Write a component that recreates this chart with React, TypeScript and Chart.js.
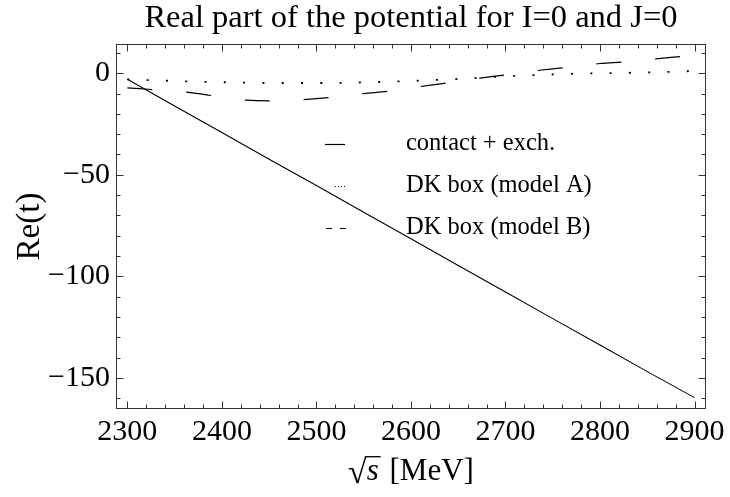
import React, { useEffect, useRef } from "react";
import { Chart, registerables } from "chart.js";

Chart.register(...registerables);

// ---- data ----
const xSolid = [2300, 2350, 2400, 2450, 2500, 2550, 2600, 2650, 2700, 2750, 2800, 2850, 2900];
const contactExch = [-3.0, -16.1, -29.2, -42.3, -55.3, -68.4, -81.5, -94.6, -107.7, -120.8, -133.8, -146.9, -159.7];

const xDotted = [2300, 2350, 2400, 2450, 2500, 2550, 2600, 2650, 2700, 2750, 2800, 2850, 2900];
const modelA = [-3.0, -3.8, -4.4, -4.8, -4.8, -4.5, -3.8, -2.8, -1.5, -0.6, 0.0, 0.4, 1.1];

const xDashed = [2300, 2325, 2350, 2375, 2400, 2425, 2450, 2475, 2500, 2525, 2550, 2575, 2600, 2625, 2650, 2675, 2700, 2725, 2750, 2775, 2800, 2825, 2850, 2875, 2900];
const modelB = [-7.2, -8.0, -8.8, -10.0, -11.8, -13.2, -13.6, -13.3, -12.5, -11.5, -10.0, -8.9, -7.2, -5.6, -4.0, -2.3, -0.8, 0.8, 2.2, 3.3, 4.8, 5.6, 6.7, 7.8, 8.8];

const xTicks = [2300, 2400, 2500, 2600, 2700, 2800, 2900];
const yTicks = [-150, -100, -50, 0];
const legendLabels = ["contact + exch.", "DK box (model A)", "DK box (model B)"];
const titleText = "Real part of the potential for I=0 and J=0";
const yTitleText = "Re(t)";
const xTitleUnit = " [MeV]";

const SERIF = '"Liberation Serif", "Times New Roman", serif';

const toPts = (xs: number[], ys: number[]) => xs.map((x, i) => ({ x, y: ys[i] }));

const decorPlugin = {
  id: "decor",
  afterDraw(chart: any) {
    const { ctx, chartArea: a, scales } = chart;
    const xs = scales.x;
    const ys = scales.y;
    ctx.save();
    // frame
    ctx.strokeStyle = "#333";
    ctx.lineWidth = 1;
    const L = Math.round(a.left) + 0.5;
    const R = Math.round(a.right) - 0.5;
    const T = Math.round(a.top) + 0.5;
    const B = Math.round(a.bottom) - 0.5;
    ctx.strokeRect(L, T, R - L, B - T);
    // inward ticks on all four sides
    ctx.beginPath();
    for (let v = 2300; v <= 2900; v += 20) {
      const px = Math.round(xs.getPixelForValue(v)) + 0.5;
      const len = v % 100 === 0 ? 7 : 4;
      ctx.moveTo(px, B);
      ctx.lineTo(px, B - len);
      ctx.moveTo(px, T);
      ctx.lineTo(px, T + len);
    }
    for (let v = -160; v <= 10; v += 10) {
      const py = Math.round(ys.getPixelForValue(v)) + 0.5;
      const len = v % 50 === 0 ? 7 : 4;
      ctx.moveTo(L, py);
      ctx.lineTo(L + len, py);
      ctx.moveTo(R, py);
      ctx.lineTo(R - len, py);
    }
    ctx.stroke();

    ctx.fillStyle = "#000";
    // title
    ctx.font = `32.5px ${SERIF}`;
    ctx.textAlign = "center";
    ctx.textBaseline = "alphabetic";
    ctx.fillText(titleText, (a.left + a.right) / 2, 27);

    // y title
    ctx.save();
    ctx.translate(30, (a.top + a.bottom) / 2);
    ctx.rotate(-Math.PI / 2);
    ctx.font = `33px ${SERIF}`;
    ctx.textAlign = "center";
    ctx.textBaseline = "middle";
    ctx.fillText(yTitleText, 0, 0);
    ctx.restore();

    // x title: sqrt(s) [MeV]
    const base = 480;
    ctx.textAlign = "left";
    ctx.font = `34px ${SERIF}`;
    const mRad = ctx.measureText("\u221A");
    const wRad = mRad.width;
    ctx.font = `31px ${SERIF}`;
    const wUnit = ctx.measureText(xTitleUnit).width;
    ctx.font = `italic 31px ${SERIF}`;
    const wS = ctx.measureText("s").width;
    const total = wRad + wS + 3 + wUnit;
    const sx = (a.left + a.right) / 2 - total / 2;
    const radBase = base + 3;
    ctx.font = `34px ${SERIF}`;
    ctx.fillText("\u221A", sx, radBase);
    const radTop = radBase - (mRad.actualBoundingBoxAscent || 28);
    const radRight = sx + (mRad.actualBoundingBoxRight || wRad);
    ctx.font = `italic 31px ${SERIF}`;
    ctx.fillText("s", sx + wRad, base);
    ctx.strokeStyle = "#000";
    ctx.lineWidth = 1.3;
    ctx.beginPath();
    ctx.moveTo(radRight - 1, radTop + 0.7);
    ctx.lineTo(sx + wRad + wS + 2, radTop + 0.7);
    ctx.stroke();
    ctx.font = `31px ${SERIF}`;
    ctx.fillText(xTitleUnit, sx + wRad + wS + 3, base);

    // legend
    const rows = [144, 186, 228];
    ctx.font = `24.5px ${SERIF}`;
    ctx.textBaseline = "middle";
    ctx.textAlign = "left";
    ctx.strokeStyle = "#000";
    ctx.lineWidth = 1.2;
    ctx.setLineDash([]);
    ctx.beginPath();
    ctx.moveTo(325, rows[0] + 0.5);
    ctx.lineTo(345, rows[0] + 0.5);
    ctx.stroke();
    ctx.setLineDash([1, 2]);
    ctx.beginPath();
    ctx.moveTo(335, rows[1] + 0.5);
    ctx.lineTo(346, rows[1] + 0.5);
    ctx.stroke();
    ctx.setLineDash([6, 8]);
    ctx.beginPath();
    ctx.moveTo(326, rows[2] + 0.5);
    ctx.lineTo(347, rows[2] + 0.5);
    ctx.stroke();
    ctx.setLineDash([]);
    legendLabels.forEach((t, i) => ctx.fillText(t, 406, rows[i]));
    ctx.restore();
  },
};

export default function App() {
  const ref = useRef<HTMLCanvasElement | null>(null);
  useEffect(() => {
    if (!ref.current) return;
    const chart = new Chart(ref.current, {
      type: "line",
      data: {
        datasets: [
          {
            label: legendLabels[0],
            data: toPts(xSolid, contactExch),
            borderColor: "#000",
            borderWidth: 1.1,
            pointRadius: 0,
            fill: false,
          },
          {
            label: legendLabels[1],
            data: toPts(xDotted, modelA),
            borderColor: "#000",
            borderWidth: 1.8,
            borderDash: [2, 17.3],
            pointRadius: 0,
            cubicInterpolationMode: "monotone",
            fill: false,
          },
          {
            label: legendLabels[2],
            data: toPts(xDashed, modelB),
            borderColor: "#000",
            borderWidth: 1.2,
            borderDash: [25, 34],
            pointRadius: 0,
            cubicInterpolationMode: "monotone",
            fill: false,
          },
        ],
      },
      options: {
        responsive: false,
        animation: false,
        events: [],
        layout: { padding: { top: 44, right: 23, bottom: 0, left: 0 } },
        plugins: {
          legend: { display: false },
          title: { display: false },
          tooltip: { enabled: false },
        },
        scales: {
          x: {
            type: "linear",
            min: 2288,
            max: 2912,
            grid: { display: false, drawTicks: false },
            border: { display: false },
            afterBuildTicks: (s: any) => {
              s.ticks = xTicks.map((v) => ({ value: v }));
            },
            afterFit: (s: any) => {
              s.height = 88;
            },
            ticks: {
              color: "#000",
              padding: 5,
              maxRotation: 0,
              autoSkip: false,
              font: { family: SERIF, size: 30 },
              callback: (v: any) => String(v),
            },
          },
          y: {
            type: "linear",
            min: -165.3,
            max: 14.4,
            grid: { display: false, drawTicks: false },
            border: { display: false },
            afterBuildTicks: (s: any) => {
              s.ticks = yTicks.map((v) => ({ value: v }));
            },
            afterFit: (s: any) => {
              s.width = 116;
            },
            ticks: {
              color: "#000",
              padding: 6,
              autoSkip: false,
              font: { family: SERIF, size: 30 },
              callback: (v: any) => (Number(v) < 0 ? "\u2212" + Math.abs(Number(v)) : String(v)),
            },
          },
        },
      },
      plugins: [decorPlugin],
    } as any);
    return () => chart.destroy();
  }, []);
  return (
    <div style={{ position: "fixed", left: 0, top: 0, width: 730, height: 497, background: "#fff" }}>
      <canvas ref={ref} width={730} height={497} style={{ display: "block" }} />
    </div>
  );
}
